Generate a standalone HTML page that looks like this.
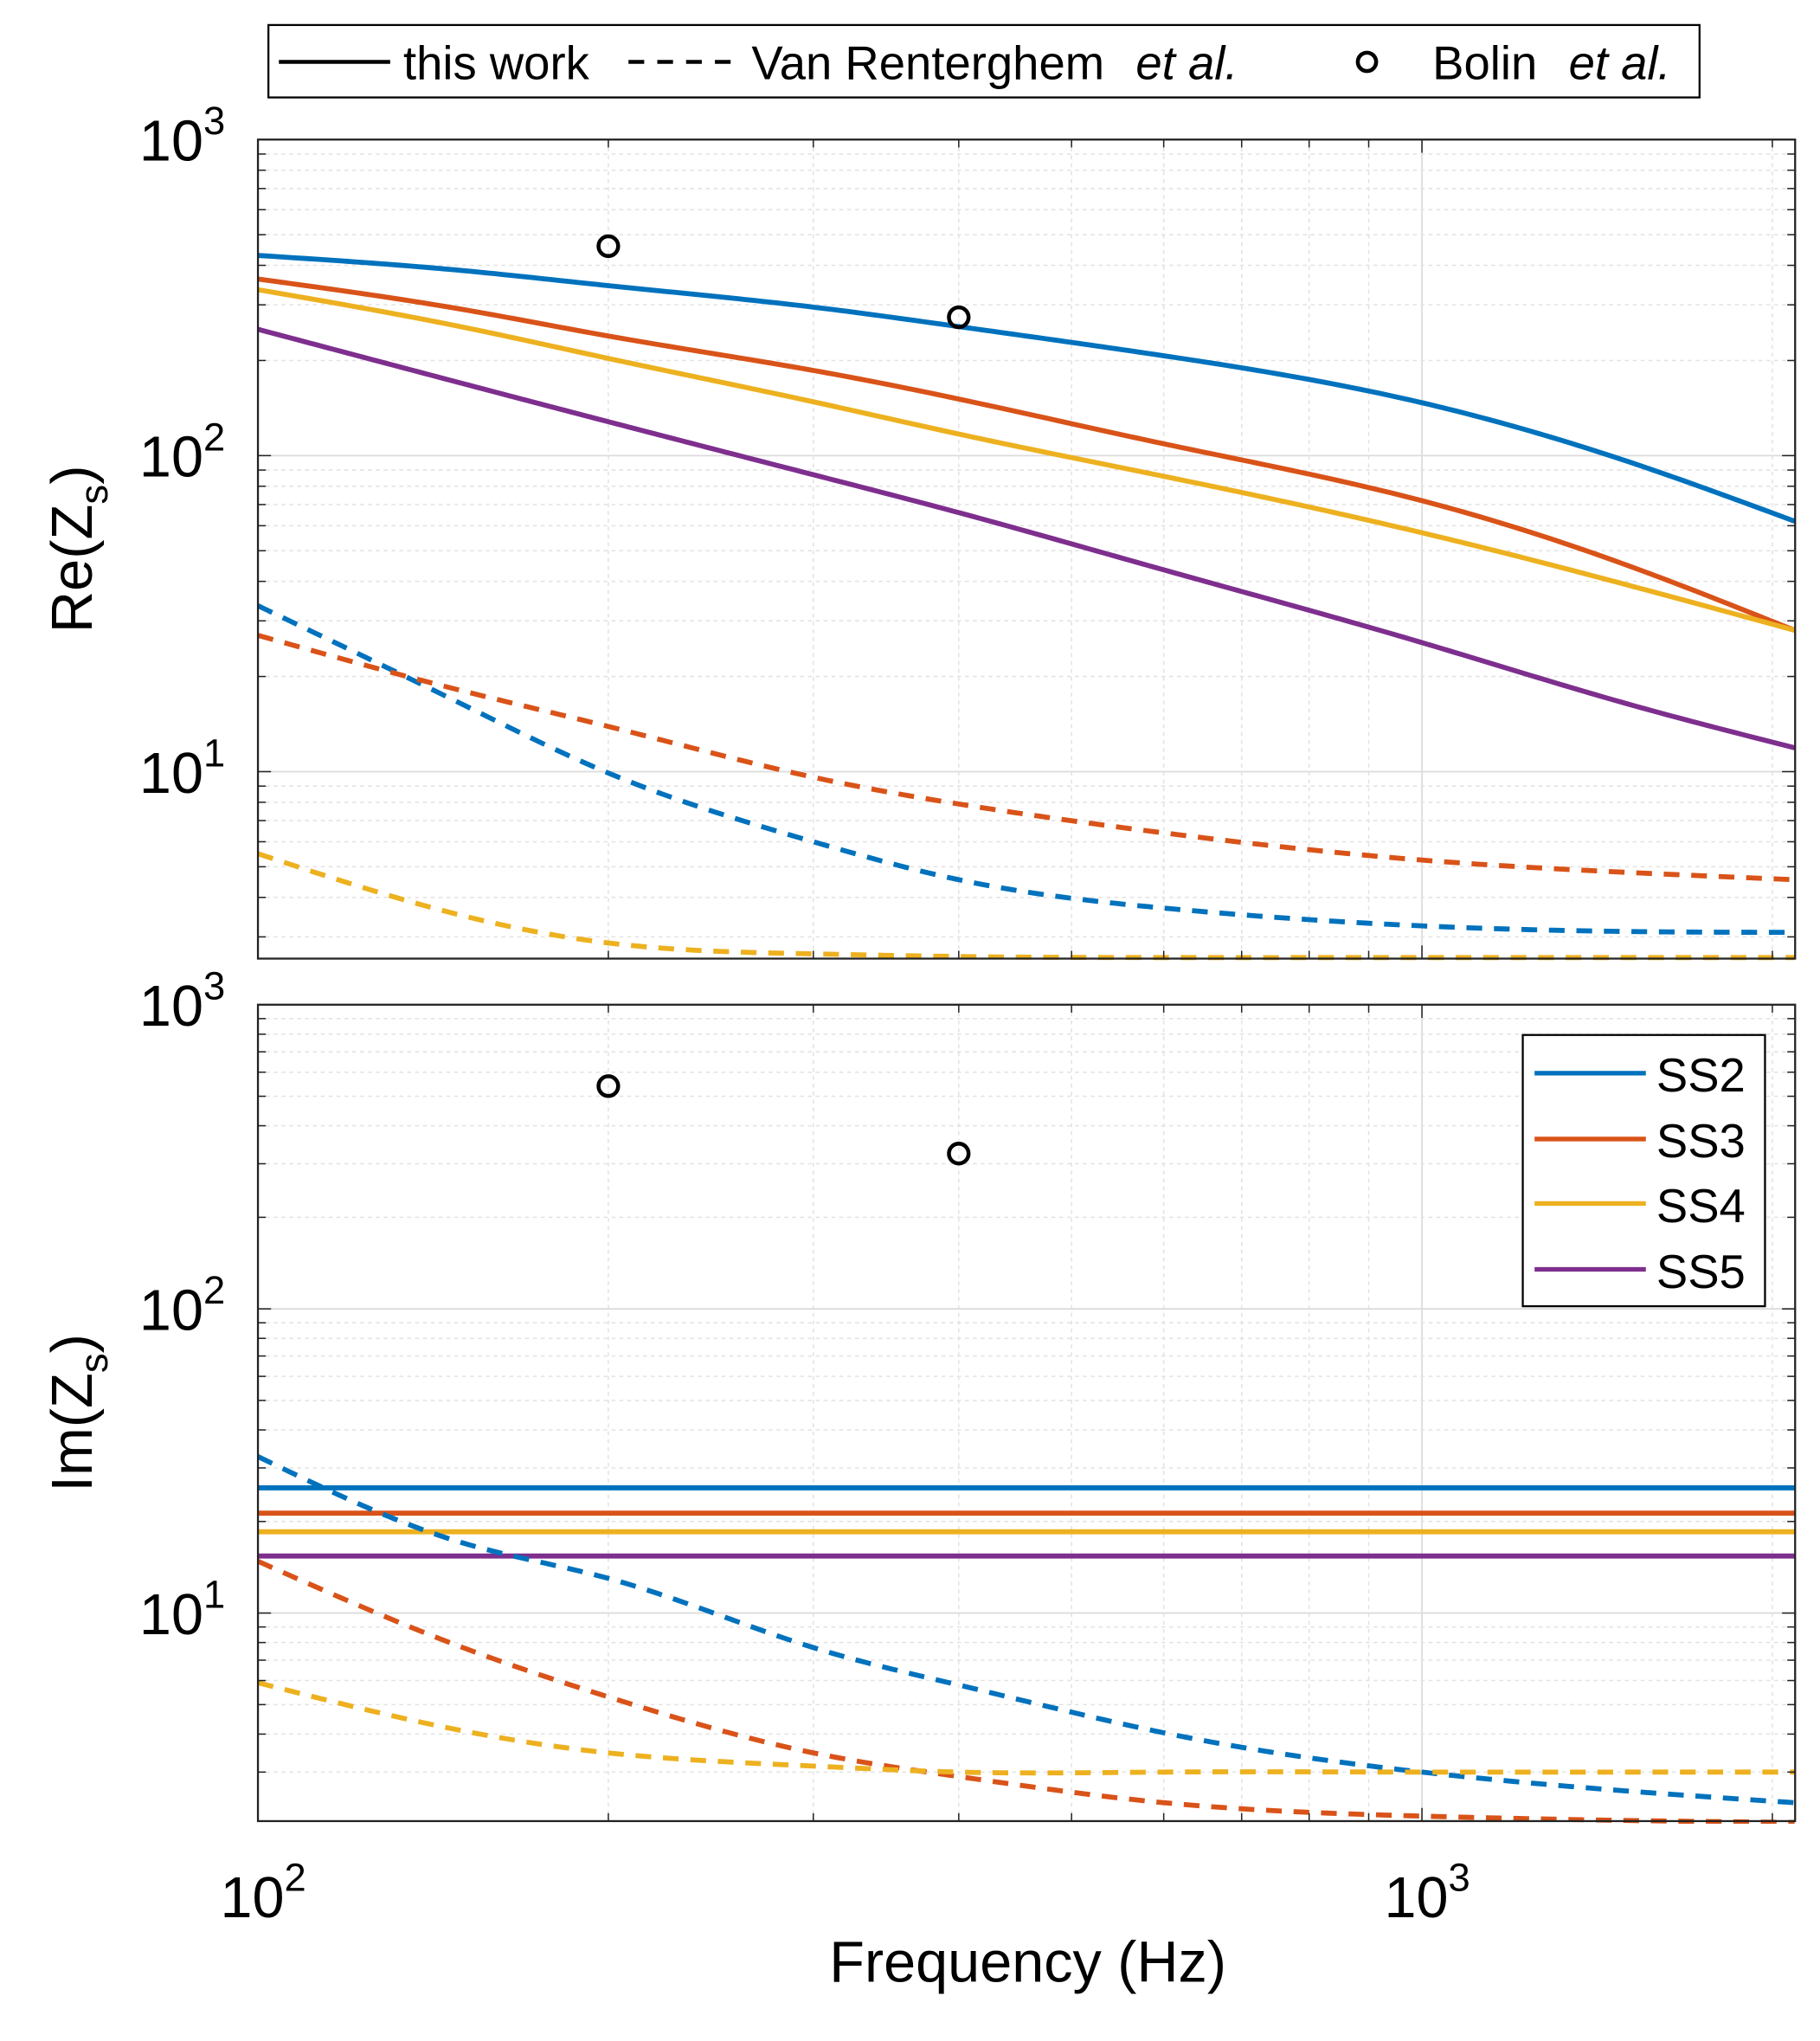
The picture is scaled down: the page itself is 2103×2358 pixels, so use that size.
<!DOCTYPE html>
<html><head><meta charset="utf-8"><style>
html,body{margin:0;padding:0;background:#fff;}
svg{display:block;font-family:"Liberation Sans",sans-serif;}
</style></head><body>
<svg id="chart" width="2103" height="2358" viewBox="0 0 1390 1550" preserveAspectRatio="none" xmlns="http://www.w3.org/2000/svg">
<g id="grid"></g><g id="marks"></g><g id="axes"></g>
<g>
<rect x="205" y="19" width="1093" height="55" fill="#fff" stroke="#000" stroke-width="1.5"/>
<line x1="213" y1="47" x2="298" y2="47" stroke="#000" stroke-width="3"/>
<text x="308" y="60" font-size="36">this work</text>
<line x1="480" y1="47" x2="568" y2="47" stroke="#000" stroke-width="3" stroke-dasharray="12,10"/>
<text x="574" y="60" font-size="36">Van Renterghem <tspan font-style="italic" dx="14">et al.</tspan></text>
<circle cx="1044" cy="47" r="7" fill="none" stroke="#000" stroke-width="3"/>
<text x="1094" y="60" font-size="36">Bolin <tspan font-style="italic" dx="14">et al.</tspan></text>
</g>
<g>
<rect x="1163" y="786" width="185" height="206" fill="#fff" stroke="#000" stroke-width="1.5"/>
<line x1="1172" y1="815" x2="1257" y2="815" stroke="#0072BD" stroke-width="3.5"/><text x="1265" y="829" font-size="36">SS2</text>
<line x1="1172" y1="865" x2="1257" y2="865" stroke="#D95319" stroke-width="3.5"/><text x="1265" y="879" font-size="36">SS3</text>
<line x1="1172" y1="914" x2="1257" y2="914" stroke="#EDB120" stroke-width="3.5"/><text x="1265" y="928" font-size="36">SS4</text>
<line x1="1172" y1="964" x2="1257" y2="964" stroke="#7E2F8E" stroke-width="3.5"/><text x="1265" y="978" font-size="36">SS5</text>
</g>
<text x="785" y="1505" font-size="44" text-anchor="middle">Frequency (Hz)</text>
<text transform="translate(70,417) rotate(-90)" font-size="44" text-anchor="middle">Re(Z<tspan font-size="30" dy="12">s</tspan><tspan dy="-12">)</tspan></text>
<text transform="translate(70,1073) rotate(-90)" font-size="44" text-anchor="middle">Im(Z<tspan font-size="30" dy="12">s</tspan><tspan dy="-12">)</tspan></text>
</svg>
<script>
const freqs=[100,150,200,300,400,600,1000,1500,2090];
const reSS2=[430,385,345,295,256,207,147,96,62];
const reSS3=[362,290,239,186,151,109,72,45,28];
const reSS4=[335,255,203,148,117,86,57,39,28];
const reSS5=[251,169,128,87,66,43.5,25.6,16.4,11.9];
const reVR2=[33.5,16.3,9.9,6.0,4.55,3.7,3.25,3.12,3.1];
const reVR3=[27,18,13.9,9.6,7.9,6.4,5.25,4.8,4.55];
const reVR4=[5.5,3.5,2.87,2.65,2.6,2.58,2.58,2.58,2.58];
const imSS2=[25.8,25.8,25.8,25.8,25.8,25.8,25.8,25.8,25.8];
const imSS3=[21.3,21.3,21.3,21.3,21.3,21.3,21.3,21.3,21.3];
const imSS4=[18.5,18.5,18.5,18.5,18.5,18.5,18.5,18.5,18.5];
const imSS5=[15.4,15.4,15.4,15.4,15.4,15.4,15.4,15.4,15.4];
const imVR2=[32.7,17,13,7.7,5.8,4.04,3.0,2.6,2.38];
const imVR3=[14.8,7.7,5.3,3.47,2.9,2.38,2.15,2.08,2.05];
const imVR4=[5.9,4.1,3.47,3.14,3.0,3.0,3.0,3.0,3.0];
const bolinF=[200,400];
const bolinRe=[460,274];
const bolinIm=[540,324];
const xTicks=[100,1000];
const yTicks=[10,100,1000];

const NS="http://www.w3.org/2000/svg";
const X0=197,X1=1371,XD=889;
function xs(f){return X0+(Math.log10(f)-2)*XD;}
const panels=[
 {top:106,bot:728,y3:106,dec:240,name:"re"},
 {top:763,bot:1383,y3:763,dec:231,name:"im"}];
function ys(p,v){return p.y3+(3-Math.log10(v))*p.dec;}
function el(t,a,parent){const e=document.createElementNS(NS,t);for(const k in a)e.setAttribute(k,a[k]);parent.appendChild(e);return e;}
const grid=document.getElementById('grid'),marks=document.getElementById('marks'),axes=document.getElementById('axes');
const fmax=Math.pow(10,2+(X1-X0)/XD);
panels.forEach(p=>{
  for(let d=100;d<=1000;d*=10)for(let m=1;m<10;m++){const f=d*m;if(f>fmax)break;const x=xs(f);
    const g=el('line',{x1:x,x2:x,y1:p.top,y2:p.bot,stroke:m==1?'#dcdcdc':'#e2e2e2','stroke-width':m==1?1.2:1,'stroke-dasharray':m==1?'none':'3,3'},grid);
    
    el('line',{x1:x,x2:x,y1:p.bot,y2:p.bot-(m==1?10:6),stroke:'#222','stroke-width':1},axes);
    el('line',{x1:x,x2:x,y1:p.top,y2:p.top+(m==1?10:6),stroke:'#222','stroke-width':1},axes);}
  for(let d=1;d<=100;d*=10)for(let m=1;m<10;m++){const v=d*m;const y=ys(p,v);if(y>p.bot||y<p.top)continue;
    const g=el('line',{x1:X0,x2:X1,y1:y,y2:y,stroke:m==1?'#dcdcdc':'#e2e2e2','stroke-width':m==1?1.2:1,'stroke-dasharray':m==1?'none':'3,3'},grid);
    
    el('line',{x1:X0,x2:X0+(m==1?10:6),y1:y,y2:y,stroke:'#222','stroke-width':1},axes);
    el('line',{x1:X1,x2:X1-(m==1?10:6),y1:y,y2:y,stroke:'#222','stroke-width':1},axes);}
  const r=el('rect',{x:X0,y:p.top,width:X1-X0,height:p.bot-p.top,fill:'none',stroke:'#222','stroke-width':1.5},axes);
  
  yTicks.forEach(v=>{const y=ys(p,v);const t=el('text',{x:172,y:y+16,'font-size':44,'text-anchor':'end'},axes);
    
    t.textContent='10';const s=el('tspan',{'font-size':30,dy:-20},t);s.textContent=String(Math.round(Math.log10(v)));});
});
xTicks.forEach(f=>{const t=el('text',{x:xs(f)+4,y:1456,'font-size':44,'text-anchor':'middle'},axes);
  
  t.textContent='10';const s=el('tspan',{'font-size':30,dy:-20},t);s.textContent=String(Math.round(Math.log10(f)));});
function spline(xv,yv){const n=xv.length,h=[],a=[],l=[1],mu=[0],z=[0],c=new Array(n).fill(0),b=[],d=[];
  for(let i=0;i<n-1;i++)h.push(xv[i+1]-xv[i]);
  for(let i=1;i<n-1;i++)a[i]=3/h[i]*(yv[i+1]-yv[i])-3/h[i-1]*(yv[i]-yv[i-1]);
  for(let i=1;i<n-1;i++){l[i]=2*(xv[i+1]-xv[i-1])-h[i-1]*mu[i-1];mu[i]=h[i]/l[i];z[i]=(a[i]-h[i-1]*z[i-1])/l[i];}
  for(let j=n-2;j>=0;j--){c[j]=(j>0?z[j]-mu[j]*c[j+1]:0);
    b[j]=(yv[j+1]-yv[j])/h[j]-h[j]*(c[j+1]+2*c[j])/3;d[j]=(c[j+1]-c[j])/(3*h[j]);}
  return x=>{let i=0;while(i<n-2&&x>xv[i+1])i++;const dx=x-xv[i];return yv[i]+b[i]*dx+c[i]*dx*dx+d[i]*dx*dx*dx;};}
function path(p,vals){const lx=freqs.map(Math.log10),ly=vals.map(Math.log10);const s=spline(lx,ly);
  let d='';const N=240;for(let k=0;k<=N;k++){const L=lx[0]+(lx[lx.length-1]-lx[0])*k/N;const f=Math.pow(10,L),v=Math.pow(10,s(L));
    d+=(k?'L':'M')+xs(f).toFixed(2)+','+ys(p,v).toFixed(2);}
  return d;}
const defs=el('defs',{},document.getElementById('chart'));
panels.forEach((p,i)=>{const c=el('clipPath',{id:'clip'+i},defs);el('rect',{x:X0,y:p.top,width:X1-X0,height:p.bot-p.top+2},c);});
const series=[
 [0,reSS2,'#0072BD',false,'re-ss2'],[0,reSS3,'#D95319',false,'re-ss3'],[0,reSS4,'#EDB120',false,'re-ss4'],[0,reSS5,'#7E2F8E',false,'re-ss5'],
 [0,reVR2,'#0072BD',true,'re-vr-ss2'],[0,reVR3,'#D95319',true,'re-vr-ss3'],[0,reVR4,'#EDB120',true,'re-vr-ss4'],
 [1,imSS2,'#0072BD',false,'im-ss2'],[1,imSS3,'#D95319',false,'im-ss3'],[1,imSS4,'#EDB120',false,'im-ss4'],[1,imSS5,'#7E2F8E',false,'im-ss5'],
 [1,imVR2,'#0072BD',true,'im-vr-ss2'],[1,imVR3,'#D95319',true,'im-vr-ss3'],[1,imVR4,'#EDB120',true,'im-vr-ss4']];
series.forEach(s=>{const e=el('path',{d:path(panels[s[0]],s[1]),fill:'none',stroke:s[2],'stroke-width':3.8,'stroke-dasharray':s[3]?'12,9':'none','clip-path':'url(#clip'+s[0]+')'},marks);
  });
bolinF.forEach((f,i)=>{
  const a=el('circle',{cx:xs(f),cy:ys(panels[0],bolinRe[i]),r:7.5,fill:'none',stroke:'#000','stroke-width':3},marks);
  
  const b=el('circle',{cx:xs(f),cy:ys(panels[1],bolinIm[i]),r:7.5,fill:'none',stroke:'#000','stroke-width':3},marks);
  });
</script>
</body></html>
